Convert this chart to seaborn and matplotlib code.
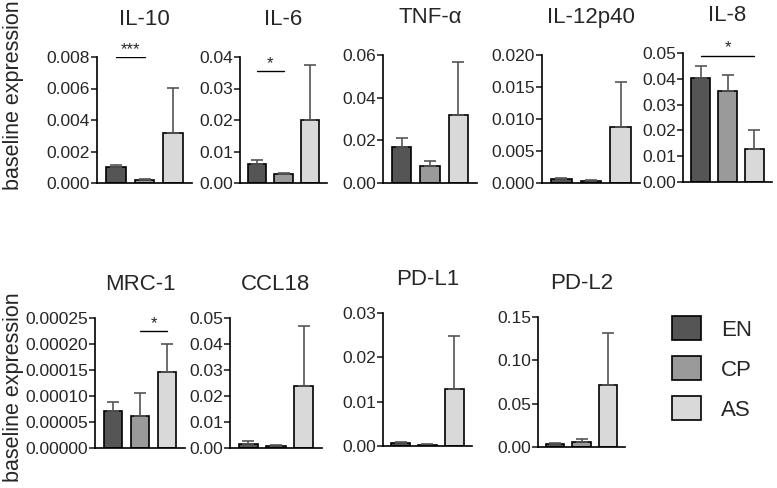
import numpy as np
import pandas as pd
import matplotlib
matplotlib.use("Agg")
import matplotlib.pyplot as plt
import seaborn as sns
from matplotlib.patches import Patch
from matplotlib.ticker import FormatStrFormatter

sns.set_style("ticks")
plt.rcParams['font.family'] = ['Liberation Sans', 'DejaVu Sans']

# data
groups = ["EN", "CP", "AS"]
colors = ["#555555", "#9a9a9a", "#d9d9d9"]

markers = ["IL-10", "IL-6", "TNF-α", "IL-12p40", "IL-8",
           "MRC-1", "CCL18", "PD-L1", "PD-L2"]
means = [
    [0.00100, 0.00022, 0.00320],
    [0.0060, 0.0027, 0.0200],
    [0.0170, 0.0080, 0.0320],
    [0.00060, 0.00035, 0.00880],
    [0.0402, 0.0353, 0.0128],
    [0.000071, 0.000061, 0.000147],
    [0.0017, 0.0008, 0.0240],
    [0.0006, 0.0003, 0.0128],
    [0.0030, 0.0060, 0.0720],
]
upper = [
    [0.00115, 0.00027, 0.00605],
    [0.0073, 0.0033, 0.0375],
    [0.0210, 0.0105, 0.0565],
    [0.00075, 0.00045, 0.01580],
    [0.0450, 0.0415, 0.0201],
    [0.000088, 0.000105, 0.000200],
    [0.0027, 0.0010, 0.0470],
    [0.0009, 0.0004, 0.0247],
    [0.0045, 0.0095, 0.1310],
]
ymax = [0.008, 0.04, 0.06, 0.020, 0.05, 0.00025, 0.05, 0.03, 0.15]
ystep = [0.002, 0.01, 0.02, 0.005, 0.01, 0.00005, 0.01, 0.01, 0.05]
yfmt = ["%.3f", "%.2f", "%.2f", "%.3f", "%.2f", "%.5f", "%.2f", "%.2f", "%.2f"]

# significance brackets: (panel, left group, right group, height, label)
sig = [
    ("IL-10", 0, 1, 0.0080, "***"),
    ("IL-6", 0, 1, 0.0355, "*"),
    ("IL-8", 0, 2, 0.0490, "*"),
    ("MRC-1", 1, 2, 0.000225, "*"),
]

W, H = 777, 488
# axes boxes in pixels: left, right, top, bottom
boxes = [
    (97, 192, 57, 183), (240, 327, 57, 183), (383, 477, 55, 183),
    (542, 640, 55, 183), (683, 772, 53, 182),
    (95, 185, 318, 448), (230, 322, 318, 448), (383, 472, 313, 446),
    (538, 625, 317, 447),
]

fig = plt.figure(figsize=(W / 100, H / 100), dpi=100)

for i, name in enumerate(markers):
    l, r, t, b = boxes[i]
    ax = fig.add_axes([l / W, 1 - b / H, (r - l) / W, (b - t) / H])
    df = pd.DataFrame({"group": groups, "value": means[i]})
    sns.barplot(data=df, x="group", y="value", hue="group", palette=colors,
                order=groups, hue_order=groups, legend=False, width=0.69,
                edgecolor="black", linewidth=1.2, errorbar=None, ax=ax)
    err = np.array(upper[i]) - np.array(means[i])
    ax.errorbar(range(3), means[i], yerr=[np.zeros(3), err], fmt="none",
                ecolor="#555555", elinewidth=1.2, capsize=4, capthick=1.2,
                zorder=1)
    for p, a, c, h, lab in sig:
        if p == name:
            ax.plot([a, c], [h, h], color="black", lw=1)
            ax.text((a + c) / 2, h, lab, ha="center", va="bottom", fontsize=12)
    ax.set_xlim(-0.66, 2.66)
    ax.set_ylim(0, ymax[i])
    ax.set_yticks(np.arange(0, ymax[i] + ystep[i] / 2, ystep[i]))
    ax.yaxis.set_major_formatter(FormatStrFormatter(yfmt[i]))
    ax.set_xticks([])
    ax.set_xlabel("")
    ax.set_ylabel("")
    sns.despine(ax=ax)
    for s in ["left", "bottom"]:
        ax.spines[s].set_linewidth(1.2)
        ax.spines[s].set_color("black")
    ax.tick_params(axis="y", labelsize=12.5, length=4, width=1.2, pad=1)
    ax.set_title(name, fontsize=16, pad=23 if i < 5 else 20)

fig.text(0.018, 1 - 95 / H, "baseline expression", rotation=90,
         ha="center", va="center", fontsize=15.5)
fig.text(0.018, 1 - 387 / H, "baseline expression", rotation=90,
         ha="center", va="center", fontsize=15.5)

handles = [Patch(facecolor=c, edgecolor="black", linewidth=1.2) for c in colors]
fig.legend(handles, groups, loc="upper left", bbox_to_anchor=(652 / W, 1 - 296 / H),
           frameon=False, fontsize=16, handlelength=1.3, handleheight=1.3,
           labelspacing=0.7, handletextpad=0.9)

fig.savefig("out.png", dpi=100)
